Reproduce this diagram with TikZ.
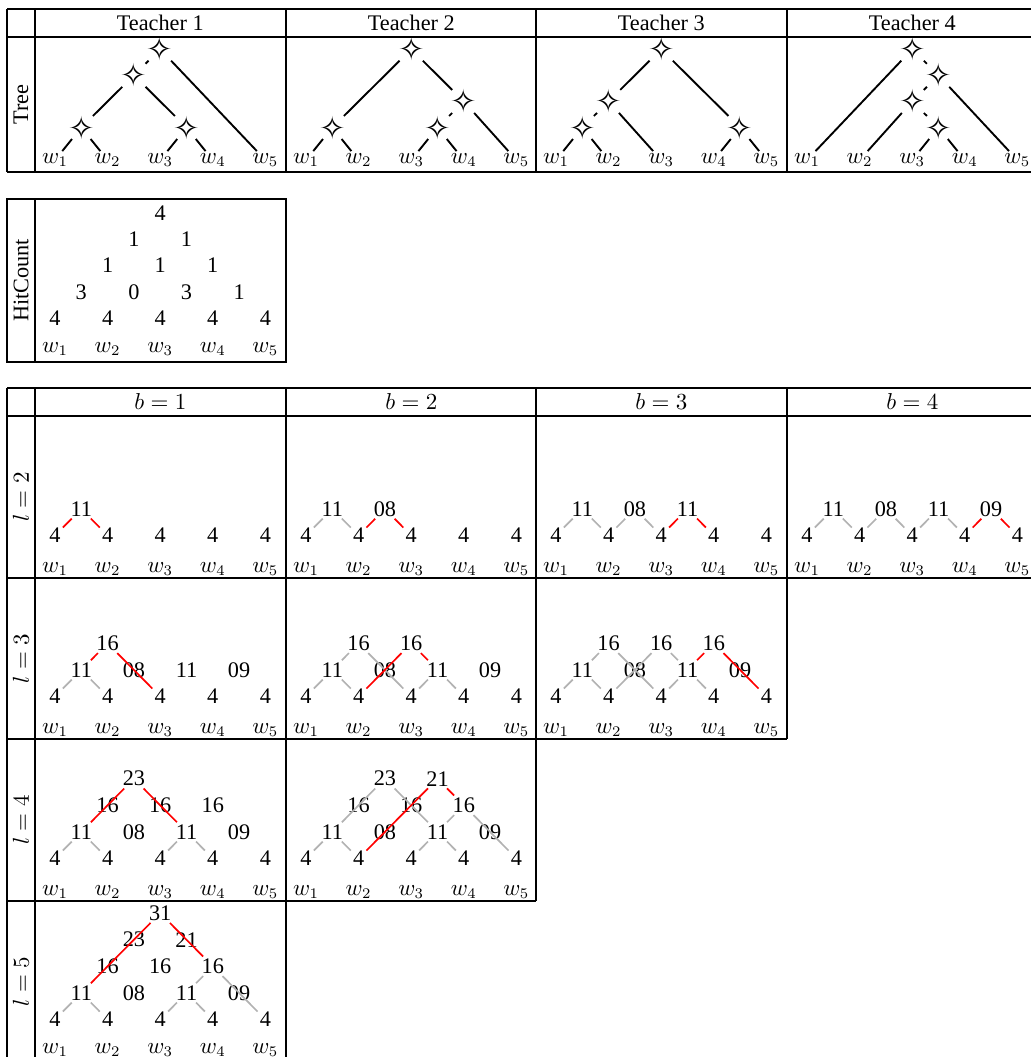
\documentclass[tikz,border=0pt]{standalone}
\usepackage{fontspec}
\setmainfont{Liberation Serif}
\newfontfamily\symfont{DejaVu Sans}
\tikzset{
  gridline/.style={line width=0.5pt},
  num/.style={inner sep=0.9pt},
  word/.style={anchor=base, inner sep=0.9pt},
  star/.style={inner sep=-0.4pt, font=\symfont\fontsize{15}{15}\selectfont},
  te/.style={line width=0.9pt},
  ted/.style={te, dash pattern=on 3pt off 2pt},
  ge/.style={line width=0.8pt, black!30},
  re/.style={line width=0.8pt, red},
  hdr/.style={inner sep=0pt},
  lbl/.style={rotate=90, inner sep=0pt}
}
\newcommand\yb{42.5}
\newcommand\ys{26.6}
\newcommand\cnode[4]{\node[num] (#1#2#3) at ({20+52.6*(#3+#2/2)},{-(\yb+\ys*#2)}) {#4};}
\newcommand\snode[3]{\node[star] (#1#2#3) at ({20+52.6*(#3+#2/2)},{-(\yb+\ys*#2)}) {✧};}
\newcommand\words[2]{\foreach \j in {1,...,5}{\node[word] (#1w\j) at ({20+52.6*(\j-1)},#2) {$w_\j$};}}
\newcommand\baserow[1]{\foreach \c in {0,...,4}{\cnode{#1}{0}{\c}{4}}}
\newcommand\lvlone[1]{\cnode{#1}{1}{0}{11}\cnode{#1}{1}{1}{08}\cnode{#1}{1}{2}{11}\cnode{#1}{1}{3}{09}}
\newcommand\lvltwo[1]{\cnode{#1}{2}{0}{16}\cnode{#1}{2}{1}{16}\cnode{#1}{2}{2}{16}}
\begin{document}
\begin{tikzpicture}[x=0.476pt, y=-0.476pt, font=\fontsize{10.6}{12.7}\selectfont]
\useasboundingbox (0,0) rectangle (1031,1057);
\clip (0,0) rectangle (1031,1057);

% ---------- Table 1: Tree ----------
\draw[gridline] (7,9) -- (1040,9) (7,37) -- (1040,37) (7,172) -- (1040,172);
\draw[gridline] (7,9) -- (7,172) (35,9) -- (35,172) (286,9) -- (286,172) (536,9) -- (536,172) (787,9) -- (787,172);
\node[hdr] (h1) at (160.3,23) {Teacher 1};
\node[hdr] (h2) at (411.3,23) {Teacher 2};
\node[hdr] (h3) at (661.3,23) {Teacher 3};
\node[hdr] (h4) at (912.3,23) {Teacher 4};
\node[lbl] (ltree) at (21,104.5) {Tree};

\begin{scope}[shift={(35,172)}]
  \renewcommand\yb{18.4}\renewcommand\ys{26.1}
  \words{p}{-8.7}
  \snode{p}{1}{0}\snode{p}{1}{2}\snode{p}{3}{0}\snode{p}{4}{0}
  \draw[ted] (p40) -- (p30);
  \draw[te] (p40) -- (pw5) (p30) -- (p10) (p30) -- (p12)
            (p10) -- (pw1) (p10) -- (pw2) (p12) -- (pw3) (p12) -- (pw4);
\end{scope}
\begin{scope}[shift={(286,172)}]
  \renewcommand\yb{18.4}\renewcommand\ys{26.1}
  \words{q}{-8.7}
  \snode{q}{1}{0}\snode{q}{1}{2}\snode{q}{2}{2}\snode{q}{4}{0}
  \draw[ted] (q22) -- (q12);
  \draw[te] (q40) -- (q10) (q40) -- (q22) (q22) -- (qw5)
            (q10) -- (qw1) (q10) -- (qw2) (q12) -- (qw3) (q12) -- (qw4);
\end{scope}
\begin{scope}[shift={(536,172)}]
  \renewcommand\yb{18.4}\renewcommand\ys{26.1}
  \words{r}{-8.7}
  \snode{r}{1}{0}\snode{r}{2}{0}\snode{r}{1}{3}\snode{r}{4}{0}
  \draw[ted] (r20) -- (r10);
  \draw[te] (r40) -- (r20) (r40) -- (r13) (r20) -- (rw3)
            (r10) -- (rw1) (r10) -- (rw2) (r13) -- (rw4) (r13) -- (rw5);
\end{scope}
\begin{scope}[shift={(787,172)}]
  \renewcommand\yb{18.4}\renewcommand\ys{26.1}
  \words{s}{-8.7}
  \snode{s}{4}{0}\snode{s}{3}{1}\snode{s}{2}{1}\snode{s}{1}{2}
  \draw[ted] (s40) -- (s31) (s31) -- (s21) (s21) -- (s12);
  \draw[te] (s40) -- (sw1) (s31) -- (sw5) (s21) -- (sw2) (s12) -- (sw3) (s12) -- (sw4);
\end{scope}

% ---------- Table 2: HitCount ----------
\draw[gridline] (7,199) rectangle (286,362) (35,199) -- (35,362);
\node[lbl] (lhit) at (21,280.5) {$\mathrm{HitCount}$};
\begin{scope}[shift={(35,362)}]
  \renewcommand\yb{44}\renewcommand\ys{26.2}
  \words{hc}{-10}
  \baserow{hc}
  \cnode{hc}{1}{0}{3}\cnode{hc}{1}{1}{0}\cnode{hc}{1}{2}{3}\cnode{hc}{1}{3}{1}
  \cnode{hc}{2}{0}{1}\cnode{hc}{2}{1}{1}\cnode{hc}{2}{2}{1}
  \cnode{hc}{3}{0}{1}\cnode{hc}{3}{1}{1}
  \cnode{hc}{4}{0}{4}
\end{scope}

% ---------- Table 3: chart ----------
\draw[gridline] (7,388) -- (1040,388) (7,416) -- (1040,416) (7,578) -- (1040,578)
  (7,739) -- (787,739) (7,901) -- (536,901) (7,1062) -- (286,1062);
\draw[gridline] (7,388) -- (7,1062) (35,388) -- (35,1062) (286,388) -- (286,1062)
  (536,388) -- (536,901) (787,388) -- (787,739);
\node[hdr] (b1) at (160.3,402) {$b=1$};
\node[hdr] (b2) at (411.3,402) {$b=2$};
\node[hdr] (b3) at (661.3,402) {$b=3$};
\node[hdr] (b4) at (912.3,402) {$b=4$};
\node[lbl] (l2) at (21,497) {$l=2$};
\node[lbl] (l3) at (21,658.5) {$l=3$};
\node[lbl] (l4) at (21,820) {$l=4$};
\node[lbl] (l5) at (21,981.5) {$l=5$};

% l=2
\begin{scope}[shift={(35,578)}]
  \words{a}{-6}\baserow{a}
  \cnode{a}{1}{0}{11}
  \draw[re] (a10) -- (a00) (a10) -- (a01);
\end{scope}
\begin{scope}[shift={(286,578)}]
  \words{b}{-6}\baserow{b}
  \cnode{b}{1}{0}{11}\cnode{b}{1}{1}{08}
  \draw[ge] (b10) -- (b00) (b10) -- (b01);
  \draw[re] (b11) -- (b01) (b11) -- (b02);
\end{scope}
\begin{scope}[shift={(536,578)}]
  \words{c}{-6}\baserow{c}
  \cnode{c}{1}{0}{11}\cnode{c}{1}{1}{08}\cnode{c}{1}{2}{11}
  \draw[ge] (c10) -- (c00) (c10) -- (c01) (c11) -- (c01) (c11) -- (c02);
  \draw[re] (c12) -- (c02) (c12) -- (c03);
\end{scope}
\begin{scope}[shift={(787,578)}]
  \words{d}{-6}\baserow{d}
  \lvlone{d}
  \draw[ge] (d10) -- (d00) (d10) -- (d01) (d11) -- (d01) (d11) -- (d02) (d12) -- (d02) (d12) -- (d03);
  \draw[re] (d13) -- (d03) (d13) -- (d04);
\end{scope}

% l=3
\begin{scope}[shift={(35,739)}]
  \words{e}{-6}\baserow{e}\lvlone{e}
  \cnode{e}{2}{0}{16}
  \draw[ge] (e10) -- (e00) (e10) -- (e01);
  \draw[re] (e20) -- (e10) (e20) -- (e02);
\end{scope}
\begin{scope}[shift={(286,739)}]
  \words{f}{-6}\baserow{f}\lvlone{f}
  \cnode{f}{2}{0}{16}\cnode{f}{2}{1}{16}
  \draw[ge] (f10) -- (f00) (f10) -- (f01) (f12) -- (f02) (f12) -- (f03)
            (f20) -- (f10) (f20) -- (f02);
  \draw[re] (f21) -- (f01) (f21) -- (f12);
\end{scope}
\begin{scope}[shift={(536,739)}]
  \words{g}{-6}\baserow{g}\lvlone{g}\lvltwo{g}
  \draw[ge] (g10) -- (g00) (g10) -- (g01) (g12) -- (g02) (g12) -- (g03)
            (g20) -- (g10) (g20) -- (g02) (g21) -- (g01) (g21) -- (g12);
  \draw[re] (g22) -- (g12) (g22) -- (g04);
\end{scope}

% l=4
\begin{scope}[shift={(35,901)}]
  \words{h}{-6}\baserow{h}\lvlone{h}\lvltwo{h}
  \cnode{h}{3}{0}{23}
  \draw[ge] (h10) -- (h00) (h10) -- (h01) (h12) -- (h02) (h12) -- (h03);
  \draw[re] (h30) -- (h10) (h30) -- (h12);
\end{scope}
\begin{scope}[shift={(286,901)}]
  \words{i}{-6}\baserow{i}\lvlone{i}\lvltwo{i}
  \cnode{i}{3}{0}{23}\cnode{i}{3}{1}{21}
  \draw[ge] (i10) -- (i00) (i10) -- (i01) (i12) -- (i02) (i12) -- (i03)
            (i30) -- (i10) (i30) -- (i12) (i22) -- (i12) (i22) -- (i04);
  \draw[re] (i31) -- (i01) (i31) -- (i22);
\end{scope}

% l=5
\begin{scope}[shift={(35,1062)}]
  \words{j}{-9}\baserow{j}\lvlone{j}\lvltwo{j}
  \cnode{j}{3}{0}{23}\cnode{j}{3}{1}{21}\cnode{j}{4}{0}{31}
  \draw[ge] (j10) -- (j00) (j10) -- (j01) (j12) -- (j02) (j12) -- (j03)
            (j22) -- (j12) (j22) -- (j04);
  \draw[re] (j40) -- (j10) (j40) -- (j22);
\end{scope}
\end{tikzpicture}
\end{document}
